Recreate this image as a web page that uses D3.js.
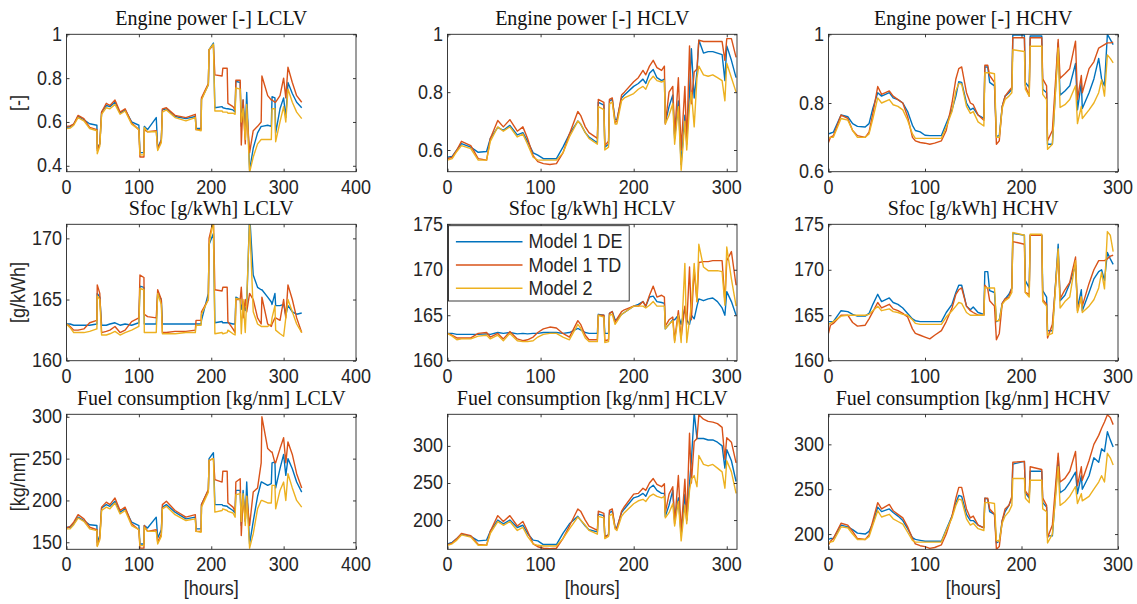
<!DOCTYPE html>
<html>
<head>
<meta charset="utf-8">
<script src="https://cdn.jsdelivr.net/npm/d3@7"></script>
<style>
  body { margin: 0; background: #fff; }
  svg { display: block; }
</style>
</head>
<body>
<svg id="chart" width="1137" height="604"></svg>
<script>
// ---------- series metadata ----------
const seriesNames = ["Model 1 DE", "Model 1 TD", "Model 2"];
const seriesColors = ["#0072BD", "#D95319", "#EDB120"];

// ---------- LCLV voyage ----------
const hoursLCLV = [0,5,10,16,24,32,42,42.5,46,48.5, 55,60,67,74,81,90,100,101.5,107,107.5, 112,124,126,131,132.5,138,150,165,178,179, 186,186.5,196,197,203,205,215,216,222,223, 230,233,234,240,241.5,244,247,249,253,258, 264,269,270,278,283,284,288,289,295,300, 303,306,312,318,325];

const powerLCLV_DE = [0.575,0.578,0.59,0.625,0.61,0.592,0.585,0.48,0.5,0.645, 0.675,0.67,0.69,0.64,0.655,0.6,0.585,0.46,0.46,0.58, 0.565,0.62,0.48,0.52,0.655,0.66,0.625,0.615,0.625,0.57, 0.57,0.705,0.77,0.93,0.96,0.665,0.67,0.665,0.66,0.66, 0.655,0.645,0.785,0.78,0.58,0.7,0.55,0.735,0.38,0.48, 0.55,0.58,0.58,0.585,0.58,0.715,0.71,0.55,0.66,0.71, 0.62,0.78,0.73,0.69,0.665];
const powerLCLV_TD = [0.58,0.582,0.59,0.63,0.615,0.575,0.565,0.47,0.5,0.645, 0.685,0.675,0.7,0.645,0.66,0.595,0.565,0.44,0.44,0.565, 0.555,0.56,0.475,0.515,0.66,0.665,0.63,0.62,0.635,0.565, 0.565,0.71,0.775,0.93,0.95,0.815,0.81,0.845,0.845,0.685, 0.67,0.655,0.79,0.79,0.495,0.7,0.5,0.66,0.46,0.56, 0.58,0.6,0.81,0.72,0.70,0.7,0.69,0.69,0.72,0.8, 0.71,0.85,0.78,0.72,0.69];
const powerLCLV_M2 = [0.57,0.572,0.585,0.62,0.605,0.57,0.56,0.455,0.49,0.635, 0.665,0.66,0.68,0.635,0.65,0.59,0.565,0.45,0.45,0.575, 0.555,0.555,0.47,0.505,0.645,0.655,0.62,0.605,0.62,0.565, 0.56,0.7,0.77,0.93,0.955,0.65,0.65,0.645,0.645,0.64, 0.64,0.635,0.755,0.75,0.6,0.66,0.52,0.68,0.37,0.44, 0.5,0.52,0.52,0.52,0.52,0.66,0.66,0.51,0.6,0.67, 0.6,0.75,0.69,0.645,0.615];

const sfocLCLV_DE = [163.0,163.0,162.9,162.9,162.9,162.9,163.0,165.5,165.2,162.9, 162.9,163.0,163.1,162.9,163.0,162.9,163.1,166.1,166.0,163.0, 163.0,163.0,165.5,165.0,163.0,163.0,163.0,163.0,163.0,163.0, 163.0,163.3,165.5,169.5,170.4,163.1,163.2,163.1,163.1,163.1, 163.0,163.0,165.2,165.0,164.2,164.8,164.1,164.5,172.0,167.0, 166.0,165.8,165.8,165.2,164.8,164.6,165.5,164.5,164.5,164.6, 163.7,164.5,164.0,163.8,163.9];
const sfocLCLV_TD = [163.0,162.8,162.5,162.5,162.6,163.1,163.3,166.2,165.5,162.3, 162.4,162.5,162.8,162.3,162.5,163.2,163.5,167.0,166.8,163.8, 163.6,163.5,165.8,165.0,162.3,162.3,162.4,162.4,162.5,163.3, 163.3,164.0,165.0,170.0,171.5,165.8,165.7,166.0,166.0,163.2, 162.6,162.3,165.0,165.0,166.0,163.5,165.0,164.0,165.5,165.0, 163.5,163.0,165.2,163.0,162.8,163.0,163.5,163.5,163.3,165.0, 163.5,166.2,165.0,163.5,162.3];
const sfocLCLV_M2 = [163.0,162.7,162.3,162.3,162.3,162.4,162.6,165.3,165.0,162.1, 162.1,162.2,162.4,162.1,162.3,162.5,162.8,165.9,165.8,162.3, 162.3,162.3,165.5,164.6,162.2,162.2,162.2,162.3,162.3,162.9, 162.9,163.8,165.0,169.5,171.5,162.2,162.3,162.2,162.3,162.5, 162.2,162.1,165.1,165.0,162.2,165.0,162.3,165.0,171.5,164.0, 163.0,162.8,162.8,162.8,163.0,163.5,164.5,162.5,162.2,162.0, 163.5,165.0,164.0,163.0,162.3];

const fuelLCLV_DE = [168,168,172,180,176,171,170,150,158,191, 195,193,199,186,190,174,170,148,148,170, 167,180,155,165,192,195,186,178,180,166, 166,195,212,250,257,195,195,194,193,192, 188,185,212,212,170,212,175,222,148,175, 205,222,222,218,220,245,246,215,238,255, 230,250,238,222,210];
const fuelLCLV_TD = [167,169,174,183,178,168,165,146,155,192, 198,195,203,188,192,172,165,143,143,170, 163,165,150,160,195,199,188,180,183,163, 163,195,213,248,250,225,222,235,235,197, 192,187,222,226,158,205,176,205,170,210, 215,245,300,262,258,258,245,245,262,275, 245,270,255,232,215];
const fuelLCLV_M2 = [166,166,171,179,175,166,164,145,153,188, 192,190,197,184,188,170,165,146,146,168, 163,163,148,157,190,193,183,176,178,163, 162,192,210,248,250,186,188,190,188,187, 185,180,207,208,175,208,170,205,143,160, 190,200,200,197,197,218,218,190,212,222, 200,232,215,200,192];

// ---------- HCLV voyage ----------
const hoursHCLV = [0,5,10,15,25,33,42,46,54,60, 67,75,81,86,92,97,103,110,117,124, 131,140,143,148,152,161,162,168,169,173, 174,177,180,182,187,190,200,205,210,213, 217,221,225,230,233,234,238,242,244,248, 251,255,257,260,262,265,268,270,275,280, 285,290,295,298,300,305,310];

const powerHCLV_DE = [0.575,0.578,0.6,0.622,0.61,0.592,0.595,0.64,0.678,0.668, 0.685,0.652,0.66,0.63,0.59,0.582,0.57,0.57,0.57,0.61, 0.655,0.70,0.69,0.66,0.645,0.625,0.765,0.755,0.61,0.62, 0.77,0.775,0.705,0.705,0.78,0.79,0.82,0.83,0.845,0.83, 0.865,0.878,0.85,0.84,0.845,0.695,0.75,0.79,0.64,0.77, 0.55,0.72,0.63,0.80,0.95,0.78,0.87,0.98,0.935,0.94, 0.94,0.935,0.93,0.84,0.96,0.91,0.85];
const powerHCLV_TD = [0.57,0.575,0.6,0.63,0.615,0.57,0.565,0.64,0.702,0.68, 0.705,0.665,0.68,0.64,0.58,0.56,0.553,0.55,0.553,0.59, 0.655,0.733,0.72,0.68,0.66,0.64,0.775,0.765,0.615,0.63, 0.775,0.78,0.695,0.70,0.79,0.80,0.836,0.85,0.875,0.86, 0.89,0.91,0.885,0.875,0.89,0.69,0.8,0.82,0.65,0.85, 0.6,0.82,0.62,0.96,0.76,0.87,0.88,0.98,0.975,0.975, 0.975,0.975,0.975,0.91,0.985,0.985,0.92];
const powerHCLV_M2 = [0.565,0.57,0.595,0.615,0.605,0.565,0.565,0.63,0.68,0.665, 0.68,0.645,0.655,0.62,0.575,0.565,0.565,0.565,0.565,0.59, 0.645,0.70,0.69,0.66,0.64,0.62,0.75,0.74,0.60,0.61, 0.76,0.765,0.69,0.69,0.77,0.78,0.795,0.81,0.82,0.81, 0.84,0.855,0.84,0.835,0.84,0.69,0.72,0.76,0.62,0.75, 0.53,0.70,0.60,0.75,0.80,0.68,0.85,0.89,0.86,0.855, 0.86,0.85,0.84,0.77,0.90,0.85,0.80];

const sfocHCLV_DE = [163.0,163.0,162.9,162.9,162.9,162.9,162.95,162.9,163.1,163.0, 163.1,162.95,163.0,162.95,163.0,163.0,163.1,163.1,163.1,163.0, 163.1,163.55,163.4,163.1,163.0,163.0,165.1,165.0,163.0,163.0, 165.2,165.4,164.5,164.5,165.1,165.3,166.0,166.2,166.5,166.0, 167.0,167.1,166.5,166.4,166.3,163.5,164.0,164.5,164.5,165.0, 164.0,165.8,164.5,164.0,165.0,164.6,166.0,166.8,166.6,166.8, 166.9,166.5,165.8,165.0,167.6,166.5,165.0];
const sfocHCLV_TD = [163.0,162.8,162.5,162.5,162.5,163.0,163.1,162.6,163.0,162.4, 163.2,162.4,162.2,162.3,162.6,163.1,163.5,163.7,163.6,163.0, 162.6,164.4,164.0,162.8,162.3,162.3,165.0,165.0,162.2,162.3, 165.2,165.4,164.2,164.6,165.4,165.6,166.0,166.0,166.5,166.0, 167.2,168.2,167.0,167.2,167.0,163.8,164.5,164.8,162.2,165.5, 162.5,166.0,164.0,170.3,164.5,170.0,166.5,170.8,170.9,170.9, 171.0,171.0,171.0,166.5,171.0,172.0,168.3];
const sfocHCLV_M2 = [163.0,162.7,162.3,162.4,162.4,162.7,162.8,162.4,162.8,162.2, 163.0,162.2,162.1,162.1,162.2,162.6,162.9,163.0,163.0,162.6, 162.3,164.0,163.6,162.5,162.1,162.1,165.0,164.8,162.0,162.1, 165.0,165.1,164.0,164.3,165.1,165.3,166.0,166.0,166.0,165.8, 166.1,166.5,166.0,166.0,166.0,163.5,164.0,164.4,162.0,165.0, 162.0,170.7,162.0,164.5,166.0,170.7,166.5,172.8,170.3,169.9, 169.9,169.9,169.8,166.1,172.5,169.0,166.0];

const fuelHCLV_DE = [168,170,175,181,178,172,173,185,200,195, 200,190,193,182,173,172,167,167,167,182, 195,205,200,192,187,184,208,206,178,180, 210,212,190,190,210,215,230,232,236,232, 243,247,240,236,236,205,220,240,200,230, 180,235,200,250,280,345,310,310,310,308, 308,305,300,270,295,280,252];
const fuelHCLV_TD = [167,169,175,182,179,167,166,185,206,198, 206,192,198,185,168,164,162,161.5,162,175, 192,215,212,200,192,186,212,209,177,180, 213,215,190,188,212,218,235,236,243,240, 250,256,248,245,249,210,235,245,195,260, 185,255,200,317,250,306,310,342,336,333, 332,330,325,282,311,305,277];
const fuelHCLV_M2 = [166,168,173,180,177,166,166,182,198,193, 198,186,190,178,168,166,165,165,165,175, 188,204,200,193,186,181,205,203,175,178, 206,208,188,186,205,210,222,226,228,225, 232,235,232,230,232,203,210,222,192,225, 172,220,195,240,255,260,245,287,275,273, 275,270,265,243,280,265,236];

// ---------- HCHV voyage ----------
const hoursHCHV = [0,2,5,13,20,25,30,38,42,46, 51,55,63,67,72,77,82,87,90,95, 100,105,110,117,122,128,132,135,138,143, 147,150,155,161,162,165,167,172,174,177, 180,183,187,190,191,203,204,208,209,221, 222,226,227,232,238,240,245,250,256,258, 262,263,270,275,280,283,286,289,292,295];

const powerHCHV_DE = [0.71,0.712,0.715,0.765,0.76,0.74,0.732,0.73,0.74,0.785, 0.83,0.82,0.83,0.815,0.81,0.80,0.775,0.735,0.72,0.716, 0.706,0.705,0.705,0.705,0.74,0.78,0.82,0.862,0.86,0.80, 0.78,0.785,0.765,0.755,0.905,0.905,0.86,0.85,0.703,0.705, 0.79,0.82,0.83,0.84,0.998,0.998,0.86,0.845,0.995,0.995, 0.84,0.83,0.68,0.68,0.975,0.823,0.835,0.85,0.915,0.78, 0.86,0.784,0.83,0.87,0.93,0.87,0.85,1.0,0.985,0.97];
const powerHCHV_TD = [0.685,0.70,0.705,0.765,0.755,0.72,0.705,0.70,0.715,0.77, 0.848,0.825,0.835,0.82,0.81,0.80,0.76,0.70,0.69,0.685, 0.683,0.68,0.683,0.69,0.72,0.80,0.87,0.90,0.905,0.83, 0.80,0.795,0.765,0.75,0.91,0.91,0.88,0.86,0.68,0.69, 0.79,0.82,0.835,0.845,0.99,0.99,0.85,0.82,0.99,0.99, 0.87,0.85,0.69,0.72,0.985,0.872,0.885,0.90,0.98,0.81, 0.88,0.83,0.90,0.92,0.96,0.965,0.97,0.975,0.975,0.977];
const powerHCHV_M2 = [0.70,0.70,0.70,0.755,0.75,0.72,0.70,0.70,0.71,0.755, 0.815,0.80,0.81,0.795,0.79,0.78,0.75,0.71,0.697,0.697, 0.697,0.697,0.697,0.697,0.73,0.775,0.835,0.857,0.855,0.79, 0.77,0.775,0.745,0.733,0.888,0.888,0.888,0.885,0.70,0.70, 0.785,0.81,0.82,0.83,0.955,0.95,0.84,0.82,0.965,0.965, 0.825,0.81,0.665,0.68,0.96,0.787,0.795,0.81,0.85,0.74, 0.79,0.755,0.78,0.80,0.83,0.867,0.82,0.94,0.93,0.917];

const sfocHCHV_DE = [164.3,164.3,164.3,165.5,165.4,165.1,164.9,164.9,165.2,166.2, 167.3,166.5,166.9,166.4,166.2,165.8,165.2,164.6,164.4,164.3, 164.3,164.3,164.3,164.3,165.3,166.2,167.5,168.3,168.3,166.0, 165.6,165.9,165.3,165.1,169.8,169.8,167.7,167.5,164.3,164.5, 166.3,166.8,167.3,168.0,174.0,173.8,168.8,168.0,173.8,173.8, 167.7,167.0,163.3,163.3,172.8,166.6,167.2,168.5,170.5,165.8, 167.8,165.5,167.5,169.0,169.8,170.0,168.8,171.9,171.2,170.6];
const sfocHCHV_TD = [163.0,163.9,164.1,165.0,165.0,164.2,163.8,163.9,164.6,165.4, 166.4,165.8,166.2,165.7,165.5,165.2,164.8,163.5,163.0,162.8, 162.6,162.4,162.8,163.3,164.3,165.8,167.3,167.8,168.0,166.0, 165.5,165.3,165.0,165.0,168.3,167.9,166.6,166.0,162.3,163.0, 166.3,166.8,167.0,168.0,173.1,172.8,167.5,167.3,173.8,173.8, 166.7,166.2,162.5,164.0,172.0,166.8,167.8,168.6,171.4,165.5, 167.0,166.0,168.5,170.0,171.0,171.0,171.0,171.2,171.5,171.6];
const sfocHCHV_M2 = [164.0,164.1,164.3,164.9,165.0,165.0,165.0,165.0,165.1,165.5, 166.0,165.5,165.7,165.4,165.3,165.1,165.0,164.5,164.1,164.0, 164.0,164.0,164.0,164.0,164.8,165.5,166.0,166.4,166.3,165.3, 165.0,165.0,165.0,165.0,168.1,168.0,168.0,168.0,164.4,164.4, 166.2,166.6,166.9,167.5,174.1,173.8,167.5,167.0,173.9,173.9, 166.5,166.0,162.8,163.0,172.3,165.8,166.5,167.0,171.0,165.3, 167.0,165.3,166.0,166.7,168.0,169.7,167.9,174.2,173.8,172.0];

const fuelHCHV_DE = [194,195,195,210,208,205,201,200,203,212, 230,225,228,224,220,215,206,196,194,193, 192,192,192,192,205,220,235,243,242,222, 215,215,210,207,240,239,225,222,190,192, 215,225,232,240,278,281,246,240,270,270, 235,230,198,198,285,246,250,258,269,245, 265,250,265,285,280,295,292,314,305,297];
const fuelHCHV_TD = [188,192,195,212,210,203,195,194,199,215, 235,228,233,226,222,218,208,195,189,187, 186,184,185,188,200,220,240,252,252,228, 218,220,210,207,240,240,228,222,183,186, 215,228,232,242,280,281,248,242,275,272, 240,232,196,210,290,258,262,270,292,254, 275,260,282,300,310,318,325,333,330,322];
const fuelHCHV_M2 = [190,191,192,208,207,200,194,194,197,210, 226,219,222,217,214,211,202,193,191,191, 191,191,191,191,204,218,232,239,238,217, 210,212,206,204,235,235,235,234,193,192, 212,220,225,232,262,262,240,235,260,260, 228,225,190,200,275,232,236,242,253,234, 245,237,242,250,258,265,258,290,285,277];

// ---------- axis settings ----------
const xTicksLCLV = [0, 100, 200, 300, 400];
const xTicksHC = [0, 100, 200, 300];
const yTicksPower = [[0.4, 0.6, 0.8, 1], [0.6, 0.8, 1], [0.6, 0.8, 1]];
const yTicksSfoc = [[160, 165, 170], [160, 165, 170, 175], [160, 165, 170, 175]];
const yTicksFuel = [[150, 200, 250, 300], [200, 250, 300], [200, 250, 300]];

const panels = [
  { title: "Engine power [-] LCLV", hours: hoursLCLV, series: [powerLCLV_DE, powerLCLV_TD, powerLCLV_M2], xDomain: [0, 400], xTicks: xTicksLCLV, yDomain: [0.373, 1], yTicks: yTicksPower[0], yLabel: "[-]" },
  { title: "Engine power [-] HCLV", hours: hoursHCLV, series: [powerHCLV_DE, powerHCLV_TD, powerHCLV_M2], xDomain: [0, 311], xTicks: xTicksHC, yDomain: [0.525, 1], yTicks: yTicksPower[1] },
  { title: "Engine power [-] HCHV", hours: hoursHCHV, series: [powerHCHV_DE, powerHCHV_TD, powerHCHV_M2], xDomain: [0, 300], xTicks: xTicksHC, yDomain: [0.6, 1], yTicks: yTicksPower[2] },
  { title: "Sfoc [g/kWh] LCLV", hours: hoursLCLV, series: [sfocLCLV_DE, sfocLCLV_TD, sfocLCLV_M2], xDomain: [0, 400], xTicks: xTicksLCLV, yDomain: [160, 171.15], yTicks: yTicksSfoc[0], yLabel: "[g/kWh]" },
  { title: "Sfoc [g/kWh] HCLV", hours: hoursHCLV, series: [sfocHCLV_DE, sfocHCLV_TD, sfocHCLV_M2], xDomain: [0, 311], xTicks: xTicksHC, yDomain: [160, 175], yTicks: yTicksSfoc[1], legend: true },
  { title: "Sfoc [g/kWh] HCHV", hours: hoursHCHV, series: [sfocHCHV_DE, sfocHCHV_TD, sfocHCHV_M2], xDomain: [0, 300], xTicks: xTicksHC, yDomain: [160, 175], yTicks: yTicksSfoc[2] },
  { title: "Fuel consumption [kg/nm] LCLV", hours: hoursLCLV, series: [fuelLCLV_DE, fuelLCLV_TD, fuelLCLV_M2], xDomain: [0, 400], xTicks: xTicksLCLV, yDomain: [141.6, 303], yTicks: yTicksFuel[0], yLabel: "[kg/nm]", xLabel: "[hours]" },
  { title: "Fuel consumption [kg/nm] HCLV", hours: hoursHCLV, series: [fuelHCLV_DE, fuelHCLV_TD, fuelHCLV_M2], xDomain: [0, 311], xTicks: xTicksHC, yDomain: [160.6, 342.6], yTicks: yTicksFuel[1], xLabel: "[hours]" },
  { title: "Fuel consumption [kg/nm] HCHV", hours: hoursHCHV, series: [fuelHCHV_DE, fuelHCHV_TD, fuelHCHV_M2], xDomain: [0, 300], xTicks: xTicksHC, yDomain: [183, 333.5], yTicks: yTicksFuel[2], xLabel: "[hours]" }
];

// ---------- layout ----------
const colLeft = [66.5, 447.5, 828.5];
const plotW = 289.5;
const rowTop = [34.3, 224.3, 414.3];
const rowH = [137.4, 136.4, 135];

const axisColor = "#262626";
const sansFont = "'Liberation Sans', Arial, Helvetica, sans-serif";
const serifFont = "'Liberation Serif', 'Times New Roman', serif";
const tickFontSize = 18;
const textStretch = 1.1;
const tickLen = 3;

const svg = d3.select("#chart");
const defs = svg.append("defs");

function sansText(parent, x, y, str, anchor) {
  return parent.append("text")
    .attr("transform", `translate(${x},${y}) scale(1,${textStretch})`)
    .attr("text-anchor", anchor)
    .attr("font-family", sansFont)
    .attr("font-size", tickFontSize)
    .attr("fill", axisColor)
    .text(str);
}

panels.forEach((p, i) => {
  const r = Math.floor(i / 3), c = i % 3;
  const left = colLeft[c], top = rowTop[r], w = plotW, h = rowH[r];
  const bottom = top + h, right = left + w;

  const x = d3.scaleLinear().domain(p.xDomain).range([left, right]);
  const y = d3.scaleLinear().domain(p.yDomain).range([bottom, top]);

  const g = svg.append("g").attr("class", "panel");

  // white plot background
  g.append("rect").attr("x", left).attr("y", top).attr("width", w).attr("height", h).attr("fill", "#fff");

  // clip region for the data lines
  const clipId = "plot-clip-" + i;
  defs.append("clipPath").attr("id", clipId)
    .append("rect").attr("x", left).attr("y", top).attr("width", w).attr("height", h);

  const line = d3.line()
    .x(d => x(d[0]))
    .y(d => y(d[1]));

  const lines = g.append("g").attr("clip-path", `url(#${clipId})`);
  p.series.forEach((vals, k) => {
    const pts = p.hours.map((hr, j) => [hr, vals[j]]);
    lines.append("path")
      .datum(pts)
      .attr("d", line)
      .attr("fill", "none")
      .attr("stroke", seriesColors[k])
      .attr("stroke-width", 1.4)
      .attr("stroke-linejoin", "round");
  });

  // tick marks on all four sides, pointing inward
  const axB = d3.axisBottom(x).tickValues(p.xTicks).tickSize(-tickLen).tickFormat("");
  const axT = d3.axisTop(x).tickValues(p.xTicks).tickSize(-tickLen).tickFormat("");
  const axL = d3.axisLeft(y).tickValues(p.yTicks).tickSize(-tickLen).tickFormat("");
  const axR = d3.axisRight(y).tickValues(p.yTicks).tickSize(-tickLen).tickFormat("");
  [[axB, `translate(0,${bottom})`], [axT, `translate(0,${top})`],
   [axL, `translate(${left},0)`], [axR, `translate(${right},0)`]].forEach(([ax, tr]) => {
    const ag = g.append("g").attr("transform", tr).call(ax);
    ag.select(".domain").remove();
    ag.selectAll("line").attr("stroke", axisColor).attr("stroke-width", 0.9);
  });

  // box
  g.append("rect")
    .attr("x", left).attr("y", top).attr("width", w).attr("height", h)
    .attr("fill", "none").attr("stroke", axisColor).attr("stroke-width", 0.9);

  // tick labels
  p.xTicks.forEach(v => sansText(g, x(v), bottom + 22, String(v), "middle"));
  p.yTicks.forEach(v => sansText(g, left - 4.5, y(v) + 6.5, String(v), "end"));

  // title
  g.append("text")
    .attr("x", (left + right) / 2)
    .attr("y", top - 9.5)
    .attr("text-anchor", "middle")
    .attr("font-family", serifFont)
    .attr("font-size", 20)
    .attr("fill", "#111")
    .text(p.title);

  // y label
  if (p.yLabel) {
    g.append("text")
      .attr("transform", `translate(24.5,${(top + bottom) / 2}) rotate(-90) scale(1,${textStretch})`)
      .attr("text-anchor", "middle")
      .attr("font-family", sansFont)
      .attr("font-size", tickFontSize)
      .attr("fill", axisColor)
      .text(p.yLabel);
  }

  // x label
  if (p.xLabel) {
    sansText(g, (left + right) / 2, 594.5, p.xLabel, "middle");
  }

  // legend
  if (p.legend) {
    const lg = g.append("g");
    const lx = left + 1, ly = top + 1.4, lw = 180.7, lh = 75.3;
    lg.append("rect").attr("x", lx).attr("y", ly).attr("width", lw).attr("height", lh)
      .attr("fill", "#fff").attr("stroke", axisColor).attr("stroke-width", 0.9);
    seriesNames.forEach((name, k) => {
      const cy = ly + 16 + k * 23.3;
      lg.append("line")
        .attr("x1", lx + 7.4).attr("x2", lx + 74)
        .attr("y1", cy).attr("y2", cy)
        .attr("stroke", seriesColors[k]).attr("stroke-width", 1.6);
      sansText(lg, lx + 80, cy + 6.5, name, "start");
    });
  }
});
</script>
</body>
</html>
